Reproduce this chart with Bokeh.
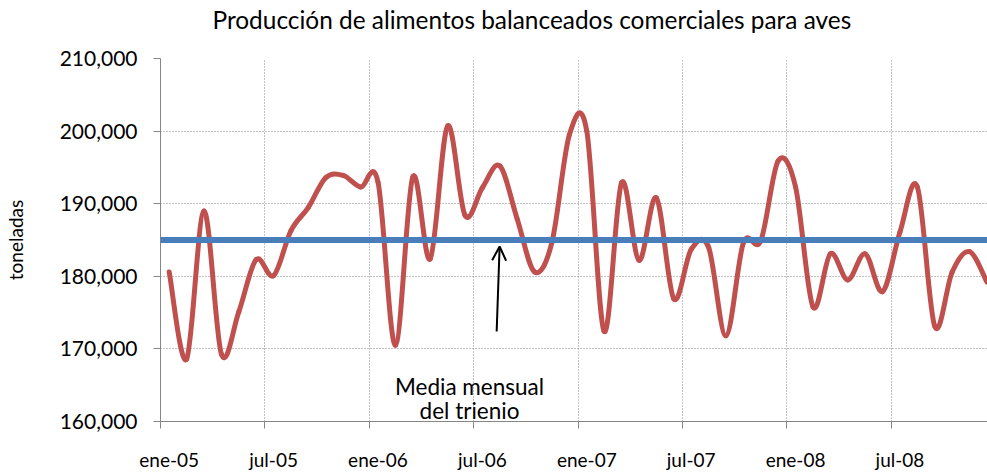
import numpy as np
from bokeh.plotting import figure
from bokeh.models import (ColumnDataSource, Range1d, FixedTicker, NumeralTickFormatter,
                          Span, Arrow, OpenHead, Label, Title)
from bokeh.embed import file_html
from bokeh.resources import INLINE

# ---- data ----
meses = list(range(48))  # ene-05 ... dic-08
produccion = [
    180600, 168600, 189000, 169300, 175100, 182300, 180100, 186300, 189500, 193600, 193900, 192300,
    193000, 170500, 193700, 182400, 200700, 188400, 192200, 195200, 187900, 180600, 184700, 199500,
    200000, 172400, 192900, 182200, 190800, 176900, 183700, 184000, 171800, 184600, 184900, 195900,
    192300, 175800, 183100, 179500, 183100, 177900, 186100, 192300, 173100, 180600, 183400, 179200,
]
media_trienio = 185000
etiqueta_pos = [0, 6, 12, 18, 24, 30, 36, 42]
etiqueta_txt = ["ene-05", "jul-05", "ene-06", "jul-06", "ene-07", "jul-07", "ene-08", "jul-08"]
y_ticks = [160000, 170000, 180000, 190000, 200000, 210000]
titulo = "Producción de alimentos balanceados comerciales para aves"
eje_y = "toneladas"
nota = ["Media mensual", "del trienio"]

FONT = "Lato"
GRAY = "#868686"
RED = "#C0504D"
BLUE = "#4A7EBB"

# ---- smoothed line (Catmull-Rom -> cubic Bezier, like Excel's smoothing) ----
x = np.array(meses, dtype=float)
y = np.array(produccion, dtype=float)
n = len(x)
xp = np.concatenate([[x[0]], x, [x[-1]]])
yp = np.concatenate([[y[0]], y, [y[-1]]])
src = ColumnDataSource(dict(
    x0=x[:-1], y0=y[:-1], x1=x[1:], y1=y[1:],
    cx0=x[:-1] + (xp[2:n + 1] - xp[0:n - 1]) / 6.0,
    cy0=y[:-1] + (yp[2:n + 1] - yp[0:n - 1]) / 6.0,
    cx1=x[1:] - (xp[3:n + 2] - xp[1:n]) / 6.0,
    cy1=y[1:] - (yp[3:n + 2] - yp[1:n]) / 6.0,
))

p = figure(width=987, height=473, output_backend="svg", toolbar_location=None,
           x_range=Range1d(-0.5, 47.03), y_range=Range1d(160000, 210000),
           min_border_left=160, min_border_right=0, min_border_top=58, min_border_bottom=49)
p.title = None
p.outline_line_color = None
p.background_fill_color = "white"
p.border_fill_color = "white"

# title: a small spacer keeps the title clear of the plotting frame
p.add_layout(Title(text=" ", text_font_size="1px", standoff=21), "above")
p.add_layout(Title(text=titulo, text_font=FONT, text_font_size="24.4px", text_font_style="normal",
                   text_color="black", align="left", offset=52, standoff=2), "above")

# x axis
xt = FixedTicker(ticks=etiqueta_pos, minor_ticks=[m - 0.5 for m in range(0, 49, 6)])
xa = p.xaxis[0]
xa.ticker = xt
xa.major_label_overrides = {pos: t for pos, t in zip(etiqueta_pos, etiqueta_txt)}
xa.major_tick_line_color = None
xa.minor_tick_line_color = GRAY
xa.minor_tick_in = 0
xa.minor_tick_out = 7
xa.axis_line_color = GRAY
xa.major_label_text_font = FONT
xa.major_label_text_font_size = "19px"
xa.major_label_text_color = "black"
xa.major_label_standoff = 19

# y axis
ya = p.yaxis[0]
ya.ticker = FixedTicker(ticks=y_ticks)
ya.formatter = NumeralTickFormatter(format="0,0")
ya.minor_tick_line_color = None
ya.major_tick_line_color = GRAY
ya.major_tick_in = 0
ya.major_tick_out = 7
ya.axis_line_color = GRAY
ya.major_label_text_font = FONT
ya.major_label_text_font_size = "21px"
ya.major_label_text_color = "black"
ya.major_label_standoff = 16
ya.axis_label = eje_y
ya.axis_label_text_font = FONT
ya.axis_label_text_font_size = "19px"
ya.axis_label_text_font_style = "normal"
ya.axis_label_text_color = "black"
ya.axis_label_standoff = 30

# grids
p.xgrid.ticker = xt
p.xgrid.grid_line_color = None
p.xgrid.minor_grid_line_color = GRAY
p.xgrid.minor_grid_line_dash = "1 2"
p.xgrid.minor_grid_line_width = 1
p.ygrid.grid_line_color = GRAY
p.ygrid.grid_line_dash = "1 2"
p.ygrid.grid_line_width = 1

# series
p.bezier(x0="x0", y0="y0", x1="x1", y1="y1", cx0="cx0", cy0="cy0", cx1="cx1", cy1="cy1",
         source=src, line_color=RED, line_width=5, line_cap="round")
p.add_layout(Span(location=media_trienio, dimension="width", line_color=BLUE, line_width=6))

# annotation
p.add_layout(Arrow(end=OpenHead(size=14, line_width=2, line_color="black"),
                   x_start=18.82, y_start=172400, x_end=18.99, y_end=184100,
                   line_width=2, line_color="black"))
p.add_layout(Label(x=17.26, y=164800, text=nota[0], text_align="center", text_baseline="alphabetic",
                   text_font=FONT, text_font_size="22.5px", text_color="black"))
p.add_layout(Label(x=17.26, y=161500, text=nota[1], text_align="center", text_baseline="alphabetic",
                   text_font=FONT, text_font_size="22.5px", text_color="black"))

open("out.html", "w").write(file_html(p, INLINE))
